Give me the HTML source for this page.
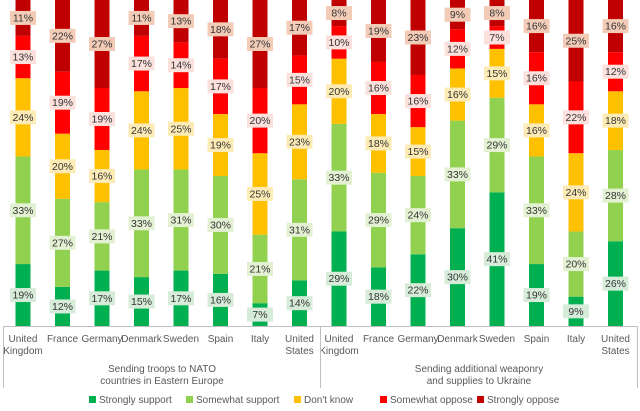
<!DOCTYPE html>
<html><head><meta charset="utf-8"><style>
body{margin:0;background:#fff;font-family:"Liberation Sans",sans-serif}
svg text{font-family:"Liberation Sans",sans-serif}
</style></head><body>
<svg id="c" width="640" height="406" xmlns="http://www.w3.org/2000/svg"></svg>
<script>
const countries=["United|Kingdom","France","Germany","Denmark","Sweden","Spain","Italy","United|States","United|Kingdom","France","Germany","Denmark","Sweden","Spain","Italy","United|States"];
const strongSupport=[19,12,17,15,17,16,7,14,29,18,22,30,41,19,9,26];
const somewhatSupport=[33,27,21,33,31,30,21,31,33,29,24,33,29,33,20,28];
const dontKnow=[24,20,16,24,25,19,25,23,20,18,15,16,15,16,24,18];
const somewhatOppose=[13,19,19,17,14,17,20,15,10,16,16,12,7,16,22,12];
const stronglyOppose=[11,22,27,11,13,18,27,17,8,19,23,9,8,16,25,16];
const seriesNames=["Strongly support","Somewhat support","Don't know","Somewhat oppose","Strongly oppose"];
const groups=["Sending troops to NATO|countries in Eastern Europe","Sending additional weaponry|and supplies to Ukraine"];
const colors=["#00B050","#92D050","#FFC000","#FF0000","#C00000"];
const labelBg=["#d6ecd9","#e3f1d3","#fdebb5","#fbe0dc","#f3ccb8"];
const series=[strongSupport,somewhatSupport,dontKnow,somewhatOppose,stronglyOppose];
const NS="http://www.w3.org/2000/svg";
const svg=document.getElementById('c');
const base=326, H=326, x0=23, step=39.5, bw=15;
const xs=i=>x0+i*step;
const ys=v=>v/100*H;
function el(t,a,p){const e=document.createElementNS(NS,t);for(const k in a)e.setAttribute(k,a[k]);(p||svg).appendChild(e);return e;}
countries.forEach((c,i)=>{
  let cum=0;
  series.forEach((s,k)=>{
    const v=s[i];const y=base-ys(cum+v);
    const r=el('rect',{x:xs(i)-bw/2,y:y,width:bw,height:ys(v),fill:colors[k]});
    
    
    cum+=v;
  });
  cum=0;
  series.forEach((s,k)=>{
    const v=s[i];const cy=base-ys(cum+v/2);cum+=v;
    const r=el('rect',{x:xs(i)-13,y:cy-7,width:26,height:14,fill:labelBg[k]});
    
    
    const t=el('text',{x:xs(i),y:cy+3.5,'text-anchor':'middle','font-size':'10.5',fill:'#333'});
    t.textContent=v+'%';
    
    
  });
  const parts=c.split('|');
  parts.forEach((p,j)=>{
    const t=el('text',{x:xs(i),y:342+j*12,'text-anchor':'middle','font-size':'10',fill:'#595959'});
    t.textContent=p;
    
    
  });
});
// axis box lines
const ax=el('path',{d:'M3.5,326 V388 M320.5,326 V388 M637.5,326 V388 M3,326.5 H638',stroke:'#bfbfbf','stroke-width':1,fill:'none'});


groups.forEach((g,gi)=>{
  g.split('|').forEach((p,j)=>{
    const t=el('text',{x:gi===0?162:479,y:372+j*12,'text-anchor':'middle','font-size':'10',fill:'#595959'});
    t.textContent=p;
    
    
  });
});
const lx=[89,186,294,380,477];
seriesNames.forEach((n,k)=>{
  const r=el('rect',{x:lx[k],y:396,width:7,height:7,fill:colors[k]});
  
  
  const t=el('text',{x:lx[k]+10,y:403,'font-size':'10',fill:'#595959'});
  t.textContent=n;
  
  
});
</script>
</body></html>
